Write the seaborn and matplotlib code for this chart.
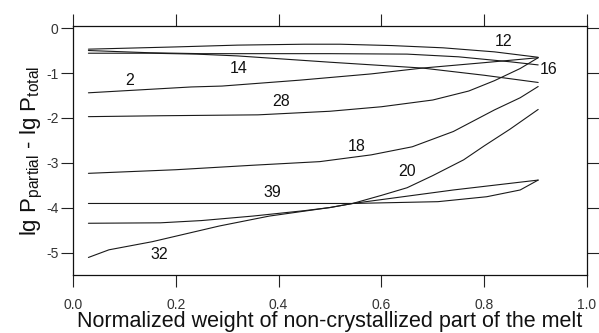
import matplotlib
matplotlib.use("Agg")
import matplotlib.pyplot as plt
import seaborn as sns
import pandas as pd

# Curves: normalized weight of the non-crystallized melt vs lg P_partial - lg P_total
c12_x = [0.03, 0.20, 0.32, 0.45, 0.52, 0.62, 0.72, 0.82, 0.905]
c12_y = [-0.47, -0.42, -0.38, -0.36, -0.36, -0.39, -0.44, -0.53, -0.65]

c16_x = [0.03, 0.15, 0.25, 0.50, 0.65, 0.75, 0.85, 0.905]
c16_y = [-0.50, -0.55, -0.57, -0.57, -0.58, -0.64, -0.75, -0.82]

c14_x = [0.03, 0.15, 0.24, 0.32, 0.50, 0.68, 0.80, 0.905]
c14_y = [-0.56, -0.56, -0.58, -0.62, -0.76, -0.89, -1.05, -1.21]

c2_x = [0.03, 0.23, 0.29, 0.44, 0.58, 0.68, 0.80, 0.905]
c2_y = [-1.44, -1.31, -1.29, -1.16, -1.02, -0.89, -0.77, -0.66]

c28_x = [0.03, 0.17, 0.36, 0.50, 0.60, 0.70, 0.77, 0.82, 0.87, 0.905]
c28_y = [-1.97, -1.95, -1.93, -1.85, -1.75, -1.60, -1.40, -1.17, -0.90, -0.66]

c18_x = [0.03, 0.20, 0.35, 0.48, 0.58, 0.66, 0.74, 0.82, 0.87, 0.905]
c18_y = [-3.23, -3.15, -3.05, -2.97, -2.82, -2.64, -2.30, -1.82, -1.55, -1.30]

c20_x = [0.03, 0.17, 0.25, 0.35, 0.45, 0.50, 0.544, 0.60, 0.65, 0.70, 0.76, 0.80, 0.85, 0.905]
c20_y = [-4.34, -4.33, -4.28, -4.18, -4.06, -3.99, -3.90, -3.72, -3.55, -3.28, -2.93, -2.62, -2.25, -1.81]

c39_x = [0.03, 0.544, 0.74, 0.905]
c39_y = [-3.90, -3.90, -3.60, -3.38]

c32_x = [0.03, 0.07, 0.154, 0.285, 0.382, 0.50, 0.544, 0.71, 0.805, 0.87, 0.905]
c32_y = [-5.10, -4.93, -4.75, -4.40, -4.18, -3.99, -3.90, -3.86, -3.75, -3.60, -3.38]

curve_names = ["12", "16", "14", "2", "28", "18", "20", "39", "32"]
curve_xs = [c12_x, c16_x, c14_x, c2_x, c28_x, c18_x, c20_x, c39_x, c32_x]
curve_ys = [c12_y, c16_y, c14_y, c2_y, c28_y, c18_y, c20_y, c39_y, c32_y]

# Curve labels and where they sit
label_text = ["12", "16", "14", "2", "28", "18", "20", "39", "32"]
label_x = [0.838, 0.926, 0.322, 0.110, 0.405, 0.551, 0.649, 0.387, 0.168]
label_y = [-0.30, -0.93, -0.90, -1.16, -1.64, -2.64, -3.19, -3.65, -5.03]

x_ticks = [0.0, 0.2, 0.4, 0.6, 0.8, 1.0]
x_tick_labels = ["0.0", "0.2", "0.4", "0.6", "0.8", "1.0"]
y_ticks = [0, -1, -2, -3, -4, -5]
y_tick_labels = ["0", "-1", "-2", "-3", "-4", "-5"]

rows = []
for name, xs, ys in zip(curve_names, curve_xs, curve_ys):
    for i, (xv, yv) in enumerate(zip(xs, ys)):
        rows.append({"curve": name, "order": i, "x": xv, "y": yv})
df = pd.DataFrame(rows)

sns.set_style("ticks")
plt.rcParams["font.family"] = ["Liberation Sans", "DejaVu Sans"]
plt.rcParams["mathtext.fontset"] = "custom"
plt.rcParams["mathtext.rm"] = "Liberation Sans"
plt.rcParams["mathtext.it"] = "Liberation Sans"

fig = plt.figure(figsize=(5.99, 3.33), dpi=100)
ax = fig.add_axes([73 / 599, 58 / 333, 514 / 599, 249 / 333])

sns.lineplot(data=df, x="x", y="y", units="curve", estimator=None, sort=False,
             color="#1a1a1a", linewidth=0.8, ax=ax, legend=False)

for t, lx, ly in zip(label_text, label_x, label_y):
    ax.text(lx, ly, t, fontsize=11.5, ha="center", va="center", color="#111111")

ax.set_xlim(0.0, 1.0)
ax.set_ylim(-5.49, 0.045)
ax.set_xticks(x_ticks)
ax.set_xticklabels(x_tick_labels)
ax.set_yticks(y_ticks)
ax.set_yticklabels(y_tick_labels)

for side in ["left", "right", "top", "bottom"]:
    ax.spines[side].set_visible(True)
    ax.spines[side].set_color("#111111")
    ax.spines[side].set_linewidth(0.9)

ax.tick_params(axis="both", which="major", direction="out", length=8.5, width=0.8,
               color="#222222", labelsize=10, labelcolor="#333333")
ax.tick_params(axis="x", top=True, labeltop=False, pad=8)
ax.tick_params(axis="y", right=True, labelright=False, pad=2)

ax.set_xlabel("Normalized weight of non-crystallized part of the melt",
              fontsize=15.5, color="#111111", labelpad=-1)
ax.set_ylabel(r"lg P$_\mathregular{partial}$ - lg P$_\mathregular{total}$",
              fontsize=16, color="#111111", labelpad=1)

fig.savefig("out.png", dpi=100)
